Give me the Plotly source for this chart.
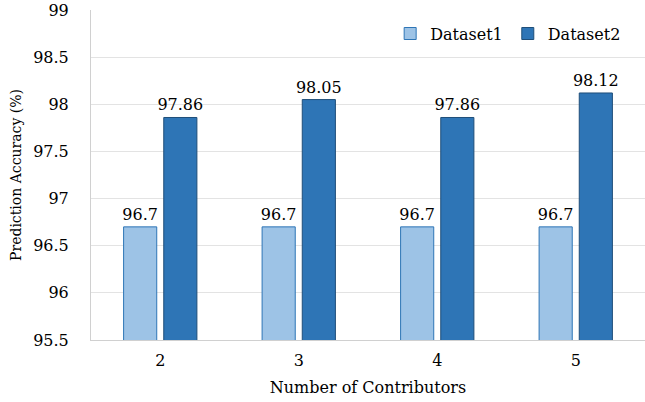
import plotly.graph_objects as go

categories = ["2", "3", "4", "5"]
dataset1 = [96.7, 96.7, 96.7, 96.7]
dataset2 = [97.86, 98.05, 97.86, 98.12]
labels1 = ["96.7", "96.7", "96.7", "96.7"]
labels2 = ["97.86", "98.05", "97.86", "98.12"]

font = "DejaVu Serif"
fig = go.Figure()
fig.add_trace(go.Bar(x=categories, y=dataset1, name="Dataset1", text=labels1,
                     textposition="outside", cliponaxis=False, constraintext="none",
                     marker=dict(color="#9DC3E6", line=dict(color="#2E75B6", width=1)),
                     textfont=dict(size=16, color="black", family=font)))
fig.add_trace(go.Bar(x=categories, y=dataset2, name="Dataset2", text=labels2,
                     textposition="outside", cliponaxis=False, constraintext="none",
                     marker=dict(color="#2E75B6", line=dict(color="#1F4E79", width=1)),
                     textfont=dict(size=16, color="black", family=font)))

fig.update_layout(
    width=645, height=402,
    margin=dict(l=91, r=0, t=10, b=62),
    plot_bgcolor="white", paper_bgcolor="white",
    barmode="group", bargap=0.42, bargroupgap=0.175,
    font=dict(family=font, size=16, color="black"),
    showlegend=True,
    legend=dict(orientation="h", x=0.54, y=0.98, xanchor="left", yanchor="top",
                font=dict(size=16, family=font), bgcolor="rgba(0,0,0,0)",
                itemwidth=30, tracegroupgap=0),
)
fig.update_xaxes(title=dict(text="Number of Contributors", font=dict(size=16, family=font), standoff=12),
                 showline=True, linecolor="#D0D0D0", linewidth=1, ticks="", automargin=False,
                 ticklabelstandoff=6,
                 tickfont=dict(size=16, family=font))
fig.update_yaxes(title=dict(text="Prediction Accuracy (%)", font=dict(size=14, family=font), standoff=8),
                 range=[95.5, 99], dtick=0.5, tickmode="linear", tick0=95.5,
                 showgrid=True, gridcolor="#E3E3E3", gridwidth=1,
                 showline=True, linecolor="#D0D0D0", linewidth=1, automargin=False,
                 zeroline=False, ticks="", ticklabelstandoff=18,
                 tickfont=dict(size=16, family=font))

fig.write_html("out.html", config={"displayModeBar": False},
               post_script="document.body.style.margin='0';")
